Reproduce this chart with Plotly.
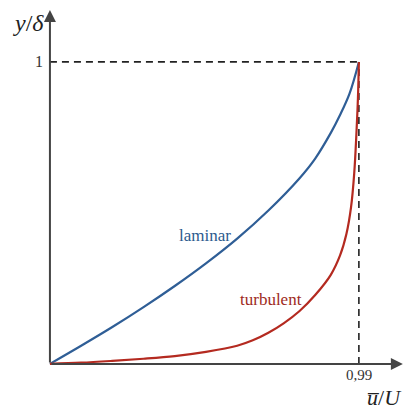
import plotly.graph_objects as go

# Data (u/U, y/delta)
laminar_u = [0.0, 0.1, 0.2, 0.3, 0.4, 0.5, 0.6, 0.7, 0.8, 0.85, 0.9, 0.93, 0.96, 0.99]
laminar_y = [0.0, 0.060, 0.122, 0.188, 0.258, 0.333, 0.415, 0.508, 0.615, 0.680, 0.765, 0.825, 0.895, 1.0]

turbulent_u = [0.0, 0.1, 0.2, 0.3, 0.4, 0.5, 0.6, 0.65, 0.7, 0.75, 0.8, 0.85, 0.9,
               0.93, 0.95, 0.965, 0.975, 0.982, 0.987, 0.99]
turbulent_y = [0.0, 0.004, 0.010, 0.017, 0.026, 0.040, 0.060, 0.078, 0.103, 0.135, 0.175,
               0.228, 0.295, 0.360, 0.430, 0.520, 0.630, 0.760, 0.880, 1.0]

x_tick_vals = [0.99]
x_tick_text = ["0,99"]
y_tick_vals = [1.0]
y_tick_text = ["1"]

BLUE = "#2f5e96"
RED = "#b42a20"
AX = "#444444"
SERIF = "Liberation Serif"

fig = go.Figure()
fig.add_trace(go.Scatter(x=laminar_u, y=laminar_y, mode="lines",
                         line=dict(color=BLUE, width=2.2, shape="spline", smoothing=1.0),
                         hoverinfo="skip", showlegend=False))
fig.add_trace(go.Scatter(x=turbulent_u, y=turbulent_y, mode="lines",
                         line=dict(color=RED, width=2.2, shape="spline", smoothing=1.0),
                         hoverinfo="skip", showlegend=False))

# dashed guide lines
fig.add_shape(type="line", x0=0, y0=y_tick_vals[0], x1=x_tick_vals[0], y1=y_tick_vals[0],
              line=dict(color="#222222", width=1.6, dash="7px,5px"), layer="below")
fig.add_shape(type="line", x0=x_tick_vals[0], y0=0, x1=x_tick_vals[0], y1=y_tick_vals[0],
              line=dict(color="#222222", width=1.6, dash="7px,5px"), layer="below")

# axes with arrows
fig.add_annotation(x=0, y=1.172, ax=0, ay=0, xref="x", yref="y", axref="x", ayref="y",
                   showarrow=True, arrowhead=2, arrowsize=1.2, arrowwidth=2, arrowcolor=AX, text="")
fig.add_annotation(x=1.131, y=0, ax=0, ay=0, xref="x", yref="y", axref="x", ayref="y",
                   showarrow=True, arrowhead=2, arrowsize=1.2, arrowwidth=2, arrowcolor=AX, text="")

# tick labels
for v, t in zip(y_tick_vals, y_tick_text):
    fig.add_annotation(x=-0.035, y=v, xref="x", yref="y", text=t, showarrow=False,
                       xanchor="center", yanchor="middle", font=dict(family=SERIF, size=16, color="#333333"))
for v, t in zip(x_tick_vals, x_tick_text):
    fig.add_annotation(x=v, y=-0.037, xref="x", yref="y", text=t, showarrow=False,
                       xanchor="center", yanchor="middle", font=dict(family=SERIF, size=15, color="#333333"))

# axis titles
fig.add_annotation(x=-0.07, y=1.13, xref="x", yref="y", text="<i>y</i>/<i>δ</i>", showarrow=False,
                   xanchor="center", yanchor="middle", font=dict(family=SERIF, size=24, color="#222222"))
fig.add_annotation(x=1.135, y=-0.1126, xref="x", yref="y", text="<i>u\u0305</i>/<i>U</i>", showarrow=False,
                   xanchor="right", yanchor="middle", font=dict(family=SERIF, size=22, color="#222222"))

# curve labels
fig.add_annotation(x=0.497, y=0.424, xref="x", yref="y", text="laminar", showarrow=False,
                   xanchor="center", yanchor="middle", font=dict(family=SERIF, size=17, color="#2c5a8e"))
fig.add_annotation(x=0.708, y=0.212, xref="x", yref="y", text="turbulent", showarrow=False,
                   xanchor="center", yanchor="middle", font=dict(family=SERIF, size=17, color="#9e2a22"))

fig.update_layout(
    width=406, height=411,
    margin=dict(l=0, r=0, t=0, b=0),
    paper_bgcolor="white", plot_bgcolor="white",
    xaxis=dict(range=[-0.160, 1.141], visible=False, fixedrange=True),
    yaxis=dict(range=[-0.156, 1.205], visible=False, fixedrange=True),
)

fig.write_html("out.html")
